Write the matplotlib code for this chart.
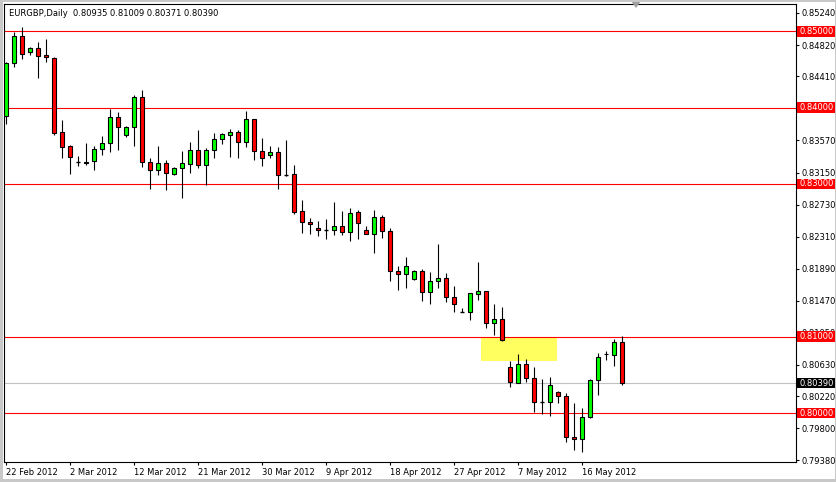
import matplotlib

matplotlib.use("Agg")
import matplotlib.pyplot as plt
from matplotlib.patches import Rectangle, Polygon
from matplotlib.transforms import blended_transform_factory

# EURGBP daily candles, 22 Feb 2012 .. 22 May 2012
opens = [
    0.83893, 0.84581, 0.84939, 0.84733, 0.84782, 0.84690, 0.84647, 0.83675, 0.83496, 0.83282,
    0.83290, 0.83295, 0.83452, 0.83531, 0.83872, 0.83636, 0.83741, 0.84135, 0.83282, 0.83177,
    0.83269, 0.83132, 0.83203, 0.83263, 0.83439, 0.83255, 0.83439, 0.83587, 0.83644, 0.83675,
    0.83544, 0.83846, 0.83430, 0.83374, 0.83413, 0.83119, 0.83128, 0.82643, 0.82508, 0.82429,
    0.82403, 0.82403, 0.82455, 0.82371, 0.82639, 0.82403, 0.82345, 0.82573, 0.82390, 0.81865,
    0.81823, 0.81757, 0.81862, 0.81580, 0.81734, 0.81773, 0.81524, 0.81322, 0.81318, 0.81563,
    0.81602, 0.81182, 0.81235, 0.80605, 0.80396, 0.80645, 0.80461, 0.80146, 0.80146, 0.80278,
    0.80225, 0.79687, 0.79661, 0.79944, 0.80435, 0.80770, 0.80763, 0.80935,
]
highs = [
    0.84598, 0.84991, 0.85061, 0.84791, 0.84860, 0.84900, 0.84668, 0.83837, 0.83505, 0.83364,
    0.83531, 0.83496, 0.83627, 0.83981, 0.83938, 0.83758, 0.84161, 0.84231, 0.83338, 0.83496,
    0.83308, 0.83220, 0.83430, 0.83548, 0.83705, 0.83465, 0.83662, 0.83670, 0.83719, 0.83705,
    0.83955, 0.83846, 0.83600, 0.83496, 0.83482, 0.83574, 0.83246, 0.82787, 0.82560, 0.82512,
    0.82547, 0.82761, 0.82643, 0.82691, 0.82665, 0.82455, 0.82665, 0.82599, 0.82429, 0.81921,
    0.82039, 0.81878, 0.81891, 0.81852, 0.82210, 0.81838, 0.81668, 0.81379, 0.81571, 0.81974,
    0.81602, 0.81422, 0.81383, 0.80675, 0.80776, 0.80714, 0.80600, 0.80439, 0.80478, 0.80285,
    0.80264, 0.80137, 0.80071, 0.80452, 0.80780, 0.80810, 0.80976, 0.81009,
]
lows = [
    0.83780, 0.84536, 0.84637, 0.84694, 0.84392, 0.84602, 0.83644, 0.83342, 0.83132, 0.83233,
    0.83250, 0.83185, 0.83381, 0.83421, 0.83447, 0.83610, 0.83496, 0.83224, 0.82935, 0.83119,
    0.82922, 0.83119, 0.82817, 0.83145, 0.83211, 0.82988, 0.83342, 0.83526, 0.83355, 0.83342,
    0.83486, 0.83316, 0.83237, 0.83342, 0.82935, 0.83111, 0.82613, 0.82358, 0.82345, 0.82315,
    0.82279, 0.82332, 0.82332, 0.82253, 0.82279, 0.82345, 0.82096, 0.82292, 0.81734, 0.81610,
    0.81639, 0.81741, 0.81468, 0.81426, 0.81639, 0.81458, 0.81322, 0.81322, 0.81222, 0.81479,
    0.81112, 0.81025, 0.80937, 0.80338, 0.80396, 0.80403, 0.80010, 0.79993, 0.79957, 0.80137,
    0.79616, 0.79511, 0.79485, 0.79936, 0.80233, 0.80692, 0.80613, 0.80371,
]
closes = [
    0.84589, 0.84939, 0.84699, 0.84782, 0.84681, 0.84660, 0.83670, 0.83486, 0.83347, 0.83282,
    0.83276, 0.83452, 0.83531, 0.83872, 0.83741, 0.83741, 0.84135, 0.83282, 0.83177, 0.83269,
    0.83150, 0.83203, 0.83269, 0.83439, 0.83255, 0.83439, 0.83587, 0.83649, 0.83675, 0.83544,
    0.83846, 0.83430, 0.83334, 0.83413, 0.83124, 0.83119, 0.82634, 0.82508, 0.82476, 0.82397,
    0.82403, 0.82455, 0.82371, 0.82626, 0.82489, 0.82345, 0.82573, 0.82390, 0.81865, 0.81820,
    0.81930, 0.81862, 0.81580, 0.81731, 0.81773, 0.81524, 0.81432, 0.81322, 0.81571, 0.81602,
    0.81182, 0.81235, 0.80959, 0.80409, 0.80645, 0.80461, 0.80146, 0.80146, 0.80369, 0.80225,
    0.79687, 0.79661, 0.79949, 0.80435, 0.80736, 0.80776, 0.80933, 0.80390,
]

date_labels = ["22 Feb 2012", "2 Mar 2012", "12 Mar 2012", "21 Mar 2012", "30 Mar 2012",
               "9 Apr 2012", "18 Apr 2012", "27 Apr 2012", "7 May 2012", "16 May 2012"]
label_every = 8  # bars between date labels

# 0.83990 sits under the 0.84000 level box in the terminal, so it is left out
price_ticks = [0.85240, 0.84820, 0.84410, 0.83570, 0.83150, 0.82730, 0.82310,
               0.81890, 0.81470, 0.81050, 0.80630, 0.80220, 0.79800, 0.79380]
levels = [0.85000, 0.84000, 0.83000, 0.81000, 0.80000]
last_price = 0.80390
zone = (59.4, 68.9, 0.80685, 0.81000)  # x from, x to, price low, price high

title = "EURGBP,Daily  0.80935 0.81009 0.80371 0.80390"

W, H = 837, 482
px = 1.0 / 1.3889  # one pixel in points at dpi 100
fs = 6.0

plt.rcParams["font.family"] = ["DejaVu Sans"]
fig = plt.figure(figsize=(W / 100, H / 100), dpi=100)
fig.patch.set_facecolor("white")

left, right, top, bottom = 4, 796, 4, 462
ax = fig.add_axes([left / W, 1 - bottom / H, (right - left) / W, (bottom - top) / H])
ax.set_facecolor("white")

n = len(opens)
xs = list(range(n))
y0, y1 = 0.793583, 0.853576
ax.set_xlim(-0.25, 98.75)
ax.set_ylim(y0, y1)

# zone
ax.add_patch(Rectangle((zone[0], zone[2]), zone[1] - zone[0], zone[3] - zone[2],
                       facecolor="#ffff60", edgecolor="none", zorder=1))

# level lines
for lv in levels:
    ax.axhline(lv, color="#ff0000", lw=1.1 * px, zorder=1.5)
ax.axhline(last_price, color="#c0c0c0", lw=1.1 * px, zorder=1.5)

# candles
ax.vlines(xs, lows, highs, color="black", lw=1.1 * px, zorder=2)
for x, o, c in zip(xs, opens, closes):
    if c > o:
        fc = "#00ff00"
    elif c < o:
        fc = "#ff0000"
    else:
        ax.hlines(o, x - 0.3, x + 0.3, color="black", lw=1.4 * px, zorder=3)
        continue
    ax.bar(x, c - o, bottom=o, width=0.55, color=fc, edgecolor="black",
           linewidth=1.1 * px, zorder=3)

for s in ax.spines.values():
    s.set_color("black")
    s.set_linewidth(1.1 * px)

# axes ticks
ax.yaxis.tick_right()
ax.set_yticks(price_ticks)
ax.set_yticklabels([f"{t:.5f}" for t in price_ticks])
ax.set_xticks([i * label_every for i in range(len(date_labels))])
ax.set_xticklabels(date_labels, ha="left")
ax.tick_params(axis="y", length=2.2, width=0.8, pad=1.6, labelsize=fs)
ax.tick_params(axis="x", length=2.2, width=0.8, pad=2.0, labelsize=fs)
for lab in ax.get_xticklabels():
    lab.set_horizontalalignment("left")

# price labels on the right axis
tr = blended_transform_factory(ax.transAxes, ax.transData)
box_w = 38 / (right - left)
box_h = 10.5 * (y1 - y0) / (bottom - top)
for lv, bg in [(lv, "#ff0000") for lv in levels] + [(last_price, "black")]:
    ax.add_patch(Rectangle((1 + 1.5 / (right - left), lv - box_h / 2), box_w, box_h,
                           transform=tr, facecolor=bg, edgecolor="none",
                           clip_on=False, zorder=5))
    ax.text(1 + 4 / (right - left), lv, f"{lv:.5f}", transform=tr, color="white",
            fontsize=fs, ha="left", va="center", zorder=6, clip_on=False)

ax.text(5 / (right - left), 1 - 9 / (bottom - top), title, transform=ax.transAxes,
        fontsize=fs, ha="left", va="center", color="black")

# shift marker
tx = 636 / W
fig.add_artist(Polygon([(tx - 5 / W, 1 - 1 / H), (tx + 5 / W, 1 - 1 / H), (tx, 1 - 8 / H)],
                       closed=True, transform=fig.transFigure, facecolor="#a0a0a0",
                       edgecolor="none", zorder=10))
# window border
for rect in [(0, 0, 2.5 / W, 1), (0, 1 - 1.5 / H, 1, 1.5 / H),
             (1 - 2 / W, 0, 2 / W, 1), (0, 0, 1, 3 / H)]:
    fig.add_artist(Rectangle(rect[:2], rect[2], rect[3], transform=fig.transFigure,
                             facecolor="#c8c8c8", edgecolor="none", zorder=10))

fig.savefig("out.png", dpi=100)
